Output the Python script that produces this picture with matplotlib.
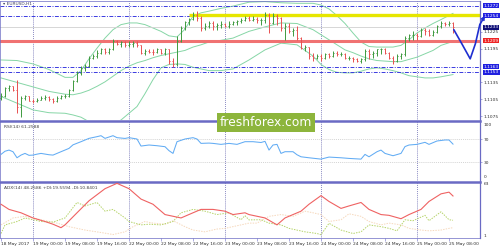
import matplotlib
matplotlib.use('Agg')
import matplotlib.pyplot as plt
import matplotlib.transforms as mtransforms
from matplotlib.patches import Rectangle

matplotlib.rc('font', family='DejaVu Sans', size=3.2)

# EURUSD H1 bars, 18 May 16:00 .. 25 May 09:00 (bar index = hour on the chart)
opens = [1.1107, 1.1110, 1.1125, 1.1128, 1.1122, 1.1092, 1.1107, 1.1110, 1.1102, 1.1101,
         1.1104, 1.1108, 1.1109, 1.1105, 1.1101, 1.1107, 1.1110, 1.1111, 1.1121, 1.1137,
         1.1152, 1.1161, 1.1164, 1.1179, 1.1182, 1.1188, 1.1194, 1.1189, 1.1194, 1.1208,
         1.1204, 1.1207, 1.1202, 1.1204, 1.1205, 1.1201, 1.1188, 1.1191, 1.1190, 1.1189,
         1.1194, 1.1188, 1.1194, 1.1173, 1.1167, 1.1208, 1.1232, 1.1242, 1.1248, 1.1256,
         1.1250, 1.1232, 1.1235, 1.1241, 1.1235, 1.1238, 1.1240, 1.1236, 1.1240, 1.1242,
         1.1245, 1.1247, 1.1250, 1.1247, 1.1248, 1.1246, 1.1247, 1.1256, 1.1241, 1.1253,
         1.1250, 1.1232, 1.1236, 1.1226, 1.1229, 1.1214, 1.1196, 1.1198, 1.1182, 1.1179,
         1.1182, 1.1178, 1.1185, 1.1182, 1.1188, 1.1185, 1.1186, 1.1179, 1.1179, 1.1176,
         1.1174, 1.1176, 1.1191, 1.1185, 1.1188, 1.1194, 1.1195, 1.1188, 1.1179, 1.1173,
         1.1182, 1.1185, 1.1214, 1.1219, 1.1220, 1.1217, 1.1229, 1.1226, 1.1220, 1.1225,
         1.1236, 1.1241, 1.1239, 1.1241]
highs = [1.1116, 1.1127, 1.1131, 1.1129, 1.1140, 1.1110, 1.1113, 1.1111, 1.1105, 1.1107,
         1.1111, 1.1112, 1.1111, 1.1108, 1.1110, 1.1112, 1.1114, 1.1123, 1.1140, 1.1155,
         1.1164, 1.1168, 1.1182, 1.1186, 1.1192, 1.1196, 1.1196, 1.1196, 1.1213, 1.1211,
         1.1209, 1.1208, 1.1208, 1.1209, 1.1208, 1.1202, 1.1194, 1.1194, 1.1194, 1.1196,
         1.1195, 1.1196, 1.1195, 1.1179, 1.1217, 1.1235, 1.1245, 1.1250, 1.1260, 1.1262,
         1.1253, 1.1241, 1.1244, 1.1244, 1.1241, 1.1244, 1.1241, 1.1244, 1.1245, 1.1247,
         1.1250, 1.1253, 1.1253, 1.1253, 1.1251, 1.1250, 1.1260, 1.1258, 1.1259, 1.1257,
         1.1252, 1.1241, 1.1241, 1.1232, 1.1235, 1.1216, 1.1202, 1.1199, 1.1188, 1.1185,
         1.1185, 1.1188, 1.1188, 1.1191, 1.1191, 1.1189, 1.1188, 1.1182, 1.1180, 1.1179,
         1.1179, 1.1194, 1.1194, 1.1191, 1.1195, 1.1196, 1.1196, 1.1189, 1.1182, 1.1185,
         1.1188, 1.1217, 1.1222, 1.1226, 1.1223, 1.1232, 1.1232, 1.1231, 1.1228, 1.1238,
         1.1244, 1.1242, 1.1244, 1.1242]
lows = [1.1104, 1.1109, 1.1119, 1.1119, 1.1080, 1.1074, 1.1104, 1.1101, 1.1098, 1.1100,
        1.1103, 1.1104, 1.1101, 1.1099, 1.1100, 1.1105, 1.1107, 1.1109, 1.1119, 1.1135,
        1.1149, 1.1156, 1.1162, 1.1176, 1.1179, 1.1186, 1.1186, 1.1185, 1.1192, 1.1201,
        1.1199, 1.1199, 1.1199, 1.1199, 1.1198, 1.1185, 1.1184, 1.1187, 1.1184, 1.1187,
        1.1185, 1.1184, 1.1168, 1.1162, 1.1164, 1.1207, 1.1229, 1.1238, 1.1247, 1.1244,
        1.1226, 1.1229, 1.1232, 1.1229, 1.1229, 1.1232, 1.1234, 1.1232, 1.1238, 1.1238,
        1.1241, 1.1244, 1.1244, 1.1244, 1.1241, 1.1238, 1.1241, 1.1223, 1.1240, 1.1238,
        1.1226, 1.1211, 1.1223, 1.1217, 1.1210, 1.1194, 1.1191, 1.1176, 1.1174, 1.1176,
        1.1174, 1.1177, 1.1178, 1.1180, 1.1182, 1.1182, 1.1177, 1.1175, 1.1172, 1.1172,
        1.1170, 1.1173, 1.1176, 1.1179, 1.1182, 1.1185, 1.1185, 1.1176, 1.1168, 1.1171,
        1.1176, 1.1182, 1.1208, 1.1211, 1.1211, 1.1216, 1.1220, 1.1217, 1.1217, 1.1223,
        1.1232, 1.1235, 1.1235, 1.1223]
closes = [1.1110, 1.1125, 1.1128, 1.1122, 1.1092, 1.1107, 1.1110, 1.1102, 1.1101, 1.1104,
          1.1108, 1.1109, 1.1105, 1.1101, 1.1107, 1.1110, 1.1111, 1.1121, 1.1137, 1.1152,
          1.1161, 1.1164, 1.1179, 1.1182, 1.1188, 1.1194, 1.1189, 1.1194, 1.1208, 1.1204,
          1.1207, 1.1202, 1.1204, 1.1205, 1.1201, 1.1188, 1.1191, 1.1190, 1.1189, 1.1194,
          1.1188, 1.1194, 1.1173, 1.1167, 1.1208, 1.1232, 1.1242, 1.1248, 1.1256, 1.1250,
          1.1232, 1.1235, 1.1241, 1.1235, 1.1238, 1.1240, 1.1236, 1.1240, 1.1242, 1.1245,
          1.1247, 1.1250, 1.1247, 1.1248, 1.1246, 1.1247, 1.1256, 1.1241, 1.1253, 1.1250,
          1.1232, 1.1236, 1.1226, 1.1229, 1.1214, 1.1196, 1.1198, 1.1182, 1.1179, 1.1182,
          1.1178, 1.1185, 1.1182, 1.1188, 1.1185, 1.1186, 1.1179, 1.1179, 1.1176, 1.1174,
          1.1176, 1.1191, 1.1185, 1.1188, 1.1194, 1.1195, 1.1188, 1.1179, 1.1173, 1.1182,
          1.1185, 1.1214, 1.1219, 1.1220, 1.1217, 1.1229, 1.1226, 1.1220, 1.1225, 1.1236,
          1.1241, 1.1239, 1.1241, 1.1233]

# Bollinger bands
bb_idx = [0, 4, 8, 12, 16, 18, 20, 22, 24, 26, 28, 30, 32, 34, 36, 38, 40, 42, 44, 46,
          48, 50, 52, 55, 58, 62, 66, 70, 74, 78, 80, 82, 84, 86, 88, 90, 92, 94, 96, 98,
          100, 102, 104, 106, 108, 110, 113]
bb_upper = [1.1175, 1.1174, 1.1168, 1.1158, 1.1144, 1.1144, 1.1156, 1.1177, 1.1196, 1.1214,
            1.1229, 1.1238, 1.1241, 1.1241, 1.1238, 1.1232, 1.1226, 1.1218, 1.1216, 1.1230,
            1.1253, 1.1259, 1.1262, 1.1267, 1.1271, 1.1278, 1.1279, 1.1277, 1.1276, 1.1276,
            1.1273, 1.1266, 1.1254, 1.1240, 1.1223, 1.1207, 1.1199, 1.1198, 1.1198, 1.1198,
            1.1201, 1.1211, 1.1223, 1.1232, 1.1240, 1.1247, 1.1258]
bb_mid = [1.1143, 1.1135, 1.1127, 1.1119, 1.1114, 1.1113, 1.1116, 1.1121, 1.1128, 1.1136,
          1.1146, 1.1156, 1.1164, 1.1170, 1.1174, 1.1179, 1.1183, 1.1186, 1.1189, 1.1192,
          1.1198, 1.1202, 1.1207, 1.1210, 1.1214, 1.1226, 1.1234, 1.1241, 1.1240, 1.1229,
          1.1220, 1.1211, 1.1202, 1.1193, 1.1188, 1.1182, 1.1177, 1.1174, 1.1173, 1.1172,
          1.1172, 1.1176, 1.1180, 1.1186, 1.1192, 1.1201, 1.1208]
bb_lower = [1.1110, 1.1098, 1.1086, 1.1081, 1.1080, 1.1077, 1.1073, 1.1065, 1.1059, 1.1057,
            1.1061, 1.1068, 1.1080, 1.1092, 1.1115, 1.1140, 1.1161, 1.1167, 1.1168, 1.1167,
            1.1162, 1.1159, 1.1156, 1.1156, 1.1159, 1.1175, 1.1193, 1.1205, 1.1202, 1.1182,
            1.1167, 1.1158, 1.1153, 1.1152, 1.1152, 1.1155, 1.1159, 1.1161, 1.1159, 1.1156,
            1.1152, 1.1147, 1.1145, 1.1143, 1.1143, 1.1145, 1.1149]

rsi_idx = [0, 1, 2, 3, 4, 5, 6, 7, 8, 9, 10, 12, 13, 15, 17, 18, 20, 22, 24, 25, 26, 28, 29,
           31, 32, 34, 35, 37, 39, 41, 42, 43, 44, 46, 48, 49, 50, 52, 53, 55, 57, 59, 61,
           63, 65, 66, 67, 68, 69, 70, 71, 73, 74, 75, 77, 80, 82, 85, 87, 90, 91, 92, 94,
           95, 96, 98, 100, 101, 102, 104, 106, 107, 109, 111, 112, 113]
rsi_vals = [43.6, 49.0, 51.0, 48.2, 37.8, 42.4, 45.3, 42.0, 42.4, 44.0, 45.3, 43.0, 42.4,
            48.2, 53.9, 60.0, 65.4, 71.1, 74.0, 75.7, 71.1, 75.7, 72.3, 71.0, 72.3, 70.0,
            57.9, 59.7, 58.5, 56.8, 50.0, 45.3, 65.4, 70.0, 72.3, 70.0, 62.5, 63.0, 62.5,
            60.8, 62.5, 60.8, 65.4, 65.4, 64.0, 66.0, 51.0, 59.7, 60.8, 45.3, 48.2, 48.2,
            43.0, 39.5, 37.8, 35.5, 39.0, 37.8, 36.7, 35.5, 43.6, 39.5, 48.2, 51.0, 45.3,
            41.3, 45.3, 57.0, 59.7, 60.8, 64.3, 60.8, 66.6, 68.3, 68.3, 61.26]

adx_idx = [0, 2, 5, 8, 11, 13, 15, 16, 19, 22, 26, 29, 32, 35, 38, 41, 45, 48, 50, 53, 56,
           58, 61, 62, 66, 69, 71, 75, 77, 80, 82, 85, 87, 90, 92, 95, 97, 100, 102, 105,
           107, 110, 112, 113]
adx_vals = [38.5, 32.4, 28.4, 22.3, 18.1, 14.9, 10.8, 14.1, 28.4, 42.6, 56.9, 63.2, 56.9,
            44.6, 38.5, 26.3, 22.3, 28.4, 32.4, 32.4, 30.3, 26.3, 28.4, 26.3, 22.3, 14.1,
            22.3, 30.3, 38.5, 48.7, 41.8, 33.6, 36.5, 40.6, 32.4, 26.3, 25.4, 21.4, 26.3,
            32.4, 41.8, 50.8, 52.8, 48.26]
pdi_idx = [0, 1, 4, 6, 10, 13, 16, 19, 21, 24, 26, 28, 31, 32, 35, 37, 40, 43, 45, 48, 51,
           54, 57, 60, 61, 62, 65, 67, 70, 72, 76, 79, 80, 82, 85, 88, 90, 92, 95, 97, 99,
           101, 103, 106, 107, 110, 112, 113]
pdi_vals = [3.9, 14.1, 18.1, 22.3, 18.1, 17.4, 22.3, 40.6, 36.5, 40.6, 30.3, 32.4, 22.3,
            18.1, 14.1, 14.9, 14.1, 18.1, 28.4, 32.4, 30.3, 26.3, 28.4, 20.2, 25.0, 20.0,
            20.2, 16.2, 14.1, 10.0, 5.9, 3.9, 2.5, 16.0, 8.0, 3.9, 5.9, 14.1, 12.0, 10.0,
            7.1, 20.2, 19.0, 25.4, 19.0, 29.6, 20.2, 19.56]
mdi_idx = [0, 3, 6, 10, 14, 17, 21, 25, 28, 31, 33, 36, 38, 41, 43, 46, 48, 51, 54, 56, 60,
           62, 64, 67, 70, 73, 76, 78, 80, 82, 85, 87, 90, 92, 95, 97, 100, 102, 105, 107,
           110, 112, 113]
mdi_vals = [14.1, 22.3, 24.2, 20.2, 16.2, 12.0, 8.0, 5.1, 2.7, 5.9, 12.0, 18.1, 16.2, 14.9,
            19.0, 12.0, 8.0, 5.9, 9.2, 10.0, 14.1, 16.2, 16.2, 24.2, 26.3, 24.2, 30.3, 28.4,
            26.3, 18.1, 20.2, 27.2, 24.2, 18.1, 14.1, 16.2, 14.1, 10.0, 8.0, 7.1, 8.0, 10.0,
            10.84]

tick_idx = [0, 8, 16, 24, 32, 40, 48, 56, 64, 72, 80, 88, 96, 104, 112]
tick_labels = ['18 May 2017', '19 May 00:00', '19 May 08:00', '19 May 16:00',
               '22 May 00:00', '22 May 08:00', '22 May 16:00', '23 May 00:00',
               '23 May 08:00', '23 May 16:00', '24 May 00:00', '24 May 08:00',
               '24 May 16:00', '25 May 00:00', '25 May 08:00']
day_starts = [8, 32, 56, 80, 104]

dash_levels = [1.1272, 1.1254, 1.1163, 1.1153]
resistance = 1.1256
resistance_from = 47
support = 1.1209
bid = 1.1233
price_ticks = [1.1075, 1.1105, 1.1135, 1.1195, 1.1225]

forecast_idx = [113.2, 115.2, 117.3, 118.6, 119.7]
forecast_px = [1.1229, 1.1204, 1.1177, 1.1204, 1.1238]
forecast_tip = (121.0, 1.1254)

UP = '#3f9a3f'
DOWN = '#e85050'
FRAME = '#6a6ac4'
TXT = '#303030'
N = len(closes)
XLIM = (-0.25, 119.75)

fig = plt.figure(figsize=(5, 2.5), dpi=100)
ax_p = fig.add_axes([0, 0.52, 0.96, 0.478])
ax_r = fig.add_axes([0, 0.278, 0.96, 0.238])
ax_a = fig.add_axes([0, 0.048, 0.96, 0.224])

for ax in (ax_p, ax_r, ax_a):
    ax.set_xlim(*XLIM)
    for s in ax.spines.values():
        s.set_color(FRAME)
        s.set_linewidth(0.5)
    ax.spines['right'].set_linewidth(0.9)
    ax.spines['bottom'].set_visible(False)
    ax.yaxis.tick_right()
    ax.tick_params(axis='y', length=1.5, width=0.4, color=FRAME, pad=1,
                   labelsize=3.2, labelcolor=TXT)
    ax.tick_params(axis='x', bottom=False, labelbottom=False)
    for d in day_starts:
        ax.axvline(d, color='#4848a0', lw=0.5, ls=(0, (1.2, 1.6)), zorder=1)
ax_r.spines['top'].set_linewidth(1.8)
ax_a.spines['top'].set_linewidth(1.8)
ax_a.spines['bottom'].set_visible(True)

# ---- price panel
ax_p.set_ylim(1.1068, 1.1281)
ax_p.set_yticks(price_ticks)
ax_p.set_yticklabels(['%.4f' % p for p in price_ticks])

ax_p.plot(bb_idx, bb_upper, color='#86d6a6', lw=0.7, zorder=2)
ax_p.plot(bb_idx, bb_mid, color='#86d6a6', lw=0.7, zorder=2)
ax_p.plot(bb_idx, bb_lower, color='#86d6a6', lw=0.7, zorder=2)

for lv in dash_levels:
    ax_p.axhline(lv, color='#3a3ae0', lw=0.7, ls=(0, (4, 1.5, 1, 1.5)), zorder=2)
ax_p.axhline(bid, color='#d0d0d0', lw=0.6, zorder=2)
ax_p.axhline(support, color='#f07272', lw=2.2, zorder=2)
ax_p.hlines(resistance, resistance_from, XLIM[1], color='#e6e600', lw=2.4, zorder=2)

for i in range(N):
    c = UP if closes[i] >= opens[i] else DOWN
    ax_p.vlines(i, lows[i], highs[i], color=c, lw=0.7, zorder=3)
    ax_p.hlines(opens[i], i - 0.35, i, color=c, lw=0.7, zorder=3)
    ax_p.hlines(closes[i], i, i + 0.35, color=c, lw=0.7, zorder=3)

ax_p.plot(forecast_idx, forecast_px, color='#1e2ed0', lw=1.2, zorder=5, clip_on=False,
          solid_capstyle='round', solid_joinstyle='round')
ax_p.annotate('', xy=forecast_tip, xytext=(forecast_idx[-1], forecast_px[-1]),
              arrowprops=dict(arrowstyle='->', color='#1e2ed0', lw=1.2,
                              mutation_scale=5, shrinkA=0, shrinkB=0),
              annotation_clip=False, zorder=6)

tr = mtransforms.blended_transform_factory(ax_p.transAxes, ax_p.transData)
boxes = [(1.1272, '#2020e0'), (1.1254, '#2020e0'), (bid, '#101078'),
         (support, '#ee2424'), (1.1163, '#2020e0'), (1.1153, '#2020e0')]
for lv, col in boxes:
    ax_p.text(1.008, lv, '%.4f' % lv, transform=tr, color='white', fontsize=3.2,
              va='center', ha='left', zorder=7, clip_on=False,
              bbox=dict(boxstyle='square,pad=0.12', fc=col, ec='none'))
ax_p.text(0.006, 0.985, '\u25be EURUSD,H1', transform=ax_p.transAxes, va='top',
          ha='left', color='#404060', fontsize=3.2)

# ---- RSI panel
ax_r.set_ylim(-1.2, 100.9)
ax_r.set_yticks([30, 70])
for lv in (30, 70):
    ax_r.axhline(lv, color='#c4c4c4', lw=0.5, ls=(0, (1.5, 1.5)), zorder=1)
ax_r.plot(rsi_idx, rsi_vals, color='#62acf4', lw=0.75, zorder=3)
rtr = mtransforms.blended_transform_factory(ax_r.transAxes, ax_r.transData)
ax_r.text(1.008, 98, '100', transform=rtr, va='top', ha='left', color=TXT)
ax_r.text(1.008, 1.5, '0', transform=rtr, va='bottom', ha='left', color=TXT)
ax_r.text(0.008, 0.93, 'RSI(14) 61.2588', transform=ax_r.transAxes, va='top',
          ha='left', color='#404040', fontsize=3.2)

# ---- ADX panel
ax_a.set_ylim(-1.4, 64.8)
ax_a.set_yticks([])
ax_a.plot(mdi_idx, mdi_vals, color='#f6d8bc', lw=0.7, ls=(0, (1.5, 1.2)), zorder=2)
ax_a.plot(pdi_idx, pdi_vals, color='#b6d46a', lw=0.7, ls=(0, (1.5, 1.2)), zorder=2)
ax_a.plot(adx_idx, adx_vals, color='#ef6262', lw=0.8, zorder=3)
atr = mtransforms.blended_transform_factory(ax_a.transAxes, ax_a.transData)
ax_a.text(1.008, 64.8, '63', transform=atr, va='top', ha='left', color=TXT)
ax_a.text(1.008, -1.4, '1', transform=atr, va='bottom', ha='left', color=TXT)
ax_a.text(0.008, 0.93, 'ADX(14) 48.2586 +DI:19.5594 -DI:10.8401',
          transform=ax_a.transAxes, va='top', ha='left', color='#404040', fontsize=3.2)
ax_a.set_xticks(tick_idx)
ax_a.set_xticklabels(tick_labels, ha='left')
ax_a.tick_params(axis='x', bottom=True, labelbottom=True, length=2, width=0.4,
                 color=FRAME, pad=1, labelsize=3.2, labelcolor=TXT)

# watermark
fig.patches.append(Rectangle((0.434, 0.472), 0.196, 0.076, transform=fig.transFigure,
                             facecolor='#8db53c', edgecolor='none', zorder=10))
fig.text(0.532, 0.51, 'freshforex.com', color='white', fontsize=8.8,
         ha='center', va='center', zorder=11)

fig.savefig('out.png', dpi=100, facecolor='white')
